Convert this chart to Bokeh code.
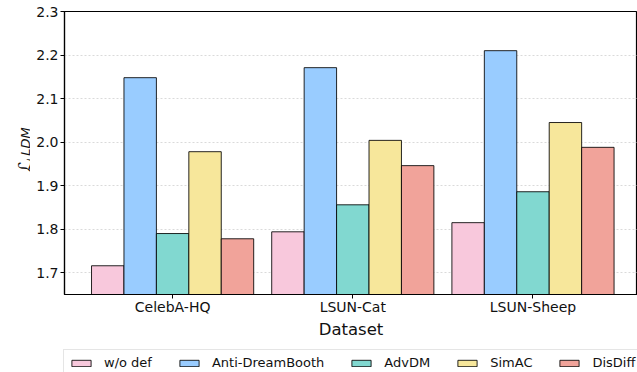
import math
from bokeh.plotting import figure
from bokeh.layouts import row, column
from bokeh.models import (ColumnDataSource, FixedTicker, Legend, LegendItem, Label, Range1d)
from bokeh.embed import file_html
from bokeh.resources import INLINE

categories = ["CelebA-HQ", "LSUN-Cat", "LSUN-Sheep"]
methods = ["w/o def", "Anti-DreamBooth", "AdvDM", "SimAC", "DisDiff"]
wo_def = [1.716, 1.794, 1.815]
anti_dreambooth = [2.148, 2.171, 2.210]
advdm = [1.790, 1.856, 1.886]
simac = [1.978, 2.004, 2.045]
disdiff = [1.778, 1.946, 1.988]
colors = ["#F8C8DC", "#99CCFF", "#81D8D0", "#F7E79B", "#F1A39A"]
y_ticks = [1.7, 1.8, 1.9, 2.0, 2.1, 2.2, 2.3]

series = [wo_def, anti_dreambooth, advdm, simac, disdiff]
FONT = "DejaVu Sans"
bar_w = 0.18
LAB_W = 30
W, H = 637, 372
TOP_H = 342
LEG_H = H - TOP_H
F_TOP, F_BOT = 11, 294   # frame edges in page pixels


def blank(width, height, xr, yr, top=0, bottom=0):
    f = figure(width=width, height=height, output_backend="svg", toolbar_location=None,
               x_range=Range1d(*xr), y_range=Range1d(*yr),
               min_border=0, min_border_left=0, min_border_right=0,
               min_border_top=top, min_border_bottom=bottom)
    f.axis.visible = False
    f.grid.visible = False
    f.outline_line_color = None
    f.background_fill_color = "white"
    f.border_fill_color = "white"
    return f


# narrow figure holding the y-axis title; its y data = TOP_H - page y
lab = blank(LAB_W, TOP_H, (0, LAB_W), (TOP_H - F_BOT, TOP_H - F_TOP),
            top=F_TOP, bottom=TOP_H - F_BOT)
lab.add_layout(Label(x=24, y=TOP_H - 165, text="\u2112",
                     angle=math.pi / 2, text_align="center", text_baseline="alphabetic",
                     text_font=FONT, text_font_size="19px",
                     text_color="#111111"))
lab.add_layout(Label(x=25, y=TOP_H - 141, text="LDM",
                     angle=math.pi / 2, text_align="center", text_baseline="alphabetic",
                     text_font=FONT, text_font_size="13px", text_font_style="italic",
                     text_color="#111111"))

p = figure(width=W - LAB_W, height=TOP_H, output_backend="svg", toolbar_location=None,
           x_range=Range1d(-0.6, 2.58), y_range=Range1d(1.65, 2.3),
           min_border_left=64 - LAB_W, min_border_right=0, min_border_top=F_TOP,
           min_border_bottom=TOP_H - F_BOT)
p.background_fill_color = "white"
p.border_fill_color = "white"
p.outline_line_color = "black"
p.outline_line_width = 1.2

p.xgrid.visible = False
p.ygrid.grid_line_color = "#d0d0d0"
p.ygrid.grid_line_dash = "2 2"
p.ygrid.grid_line_width = 0.8
p.ygrid.ticker = FixedTicker(ticks=y_ticks)

xs = list(range(len(categories)))
for i, (vals, name, col) in enumerate(zip(series, methods, colors)):
    off = (i - 2) * bar_w
    src = ColumnDataSource(dict(x=[x + off for x in xs], top=vals))
    p.vbar(x="x", top="top", bottom=1.65, width=bar_w, source=src,
           fill_color=col, line_color="black", line_width=1, line_alpha=0.85)

p.yaxis.ticker = FixedTicker(ticks=y_ticks)
p.yaxis.major_label_overrides = {t: f"{t:.1f}" for t in y_ticks}
p.xaxis.ticker = FixedTicker(ticks=xs)
p.xaxis.major_label_overrides = {i: c for i, c in enumerate(categories)}
for ax in (p.xaxis[0], p.yaxis[0]):
    ax.axis_line_color = "black"
    ax.axis_line_width = 1.2
    ax.major_tick_line_color = "black"
    ax.major_tick_out = 4
    ax.major_tick_in = 0
    ax.minor_tick_line_color = None
    ax.major_label_text_font = FONT
    ax.major_label_text_font_size = "14px"
    ax.major_label_text_color = "#111111"
p.yaxis.major_label_standoff = 2
p.xaxis.major_label_standoff = 0
p.xaxis.axis_label = "Dataset"
p.xaxis.axis_label_text_font = FONT
p.xaxis.axis_label_text_font_size = "16.5px"
p.xaxis.axis_label_text_font_style = "normal"
p.xaxis.axis_label_text_color = "#111111"
p.xaxis.axis_label_standoff = 2

# legend strip: swatches come from hidden renderers styled like the bars
leg = blank(W, LEG_H, (0, 1), (0, 1))
items = []
for vals, name, col in zip(series, methods, colors):
    r = leg.vbar(x=xs, top=vals, bottom=1.65, width=bar_w, fill_color=col,
                 line_color="black", line_width=1, line_alpha=0.85, visible=False)
    items.append(LegendItem(label=name, renderers=[r]))
legend = Legend(items=items, orientation="horizontal", location=(63, -4),
                glyph_width=24, glyph_height=8, label_standoff=11, spacing=25,
                padding=5, label_height=14, margin=0,
                label_text_font=FONT, label_text_font_size="13px", label_text_color="#111111",
                border_line_color="#cccccc", border_line_width=1,
                background_fill_color="white", background_fill_alpha=1.0)
leg.add_layout(legend, "center")

layout = column(row(lab, p, spacing=0), leg, spacing=0)
open("out.html", "w").write(file_html(layout, INLINE))
